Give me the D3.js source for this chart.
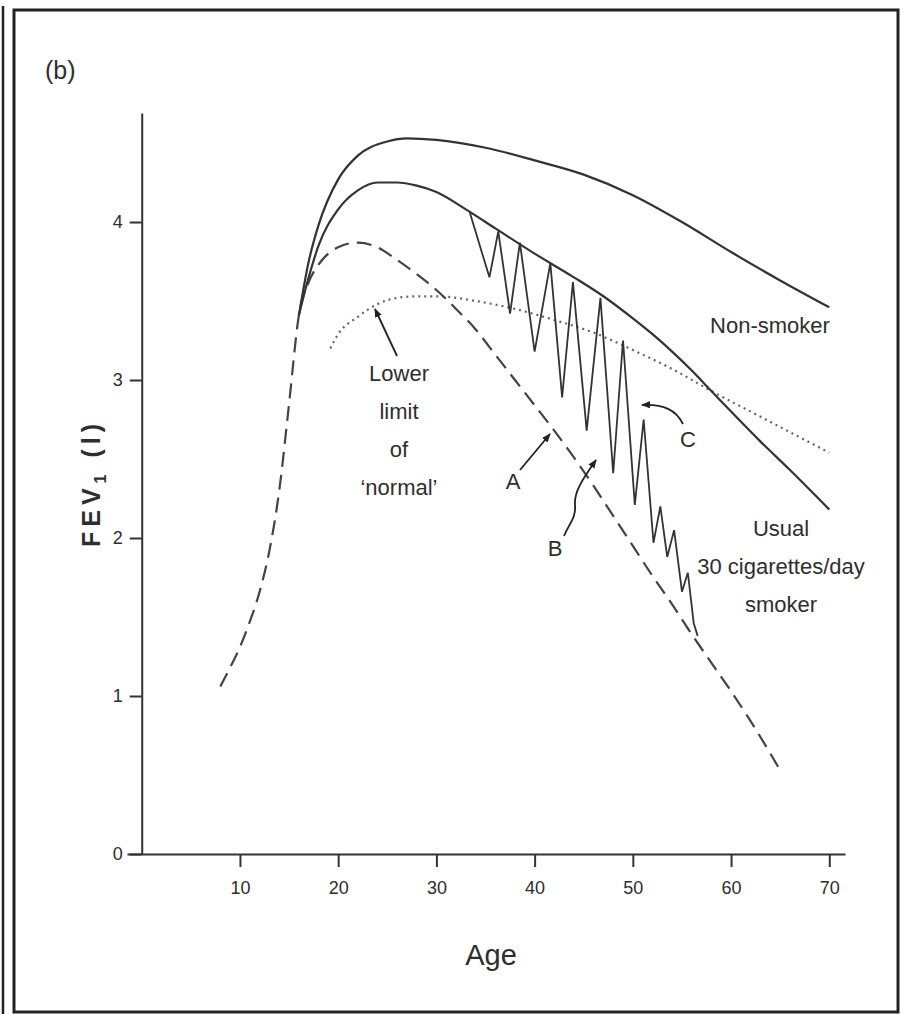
<!DOCTYPE html>
<html>
<head>
<meta charset="utf-8">
<style>
  body { margin: 0; background: #fff; }
  svg text { font-family: "Liberation Sans Narrow", "Arial Narrow", "Liberation Sans", Arial, sans-serif; fill: #2e2e2e; }
  .axis path, .axis line { stroke: #333; stroke-width: 2; }
  .axis text { font-size: 18px; }
</style>
</head>
<body>
<svg id="chart" width="903" height="1014"></svg>
<script src="https://d3js.org/d3.v7.min.js"></script>
<script>
// ages / FEV1
var nonSmokerAge = [16, 17, 18, 20, 22, 25, 27, 30, 35, 40, 45, 50, 55, 60, 65, 70];
var nonSmokerFev = [3.41, 3.75, 3.98, 4.27, 4.42, 4.51, 4.53, 4.52, 4.47, 4.39, 4.3, 4.17, 4.0, 3.81, 3.63, 3.46];

var smokerAge = [16, 17, 18, 20, 22, 24, 26, 28, 30, 33, 36, 40, 44, 47, 50, 52, 54, 56, 58, 60, 63, 66, 70];
var smokerFev = [3.41, 3.65, 3.85, 4.08, 4.2, 4.25, 4.25, 4.23, 4.19, 4.08, 3.96, 3.8, 3.65, 3.53, 3.39, 3.29, 3.18, 3.06, 2.93, 2.8, 2.61, 2.43, 2.18];

var susceptAge = [8, 9, 10, 11, 12, 13, 14, 15, 16, 17, 18, 20, 22, 24, 26, 28, 30, 32, 34, 36, 38, 40, 42, 44, 46, 48, 50, 52, 54, 56, 58, 60, 62, 65];
var susceptFev = [1.06, 1.18, 1.31, 1.47, 1.66, 1.92, 2.3, 2.85, 3.41, 3.62, 3.73, 3.84, 3.87, 3.84, 3.76, 3.67, 3.57, 3.45, 3.32, 3.16, 3.0, 2.84, 2.68, 2.51, 2.33, 2.14, 1.95, 1.76, 1.58, 1.39, 1.21, 1.03, 0.84, 0.53];

var lowerAge = [19.2, 20, 22, 24, 26, 28, 30, 34, 38, 42, 46, 50, 54, 58, 62, 66, 70];
var lowerFev = [3.2, 3.29, 3.4, 3.48, 3.52, 3.53, 3.53, 3.5, 3.45, 3.38, 3.3, 3.19, 3.07, 2.93, 2.8, 2.67, 2.54];

var zigAge = [33.4, 35.4, 36.3, 37.5, 38.5, 40.0, 41.6, 42.8, 43.9, 45.3, 46.7, 48.0, 49.0, 50.2, 51.1, 52.1, 52.8, 53.5, 54.2, 55.0, 55.6, 56.2, 56.6];
var zigFev = [4.06, 3.65, 3.94, 3.42, 3.87, 3.18, 3.74, 2.89, 3.62, 2.68, 3.52, 2.41, 3.25, 2.21, 2.75, 1.97, 2.2, 1.88, 2.05, 1.66, 1.78, 1.46, 1.38];

var xTicks = [10, 20, 30, 40, 50, 60, 70];
var yTicks = [0, 1, 2, 3, 4];

var svg = d3.select("#chart");

var x = d3.scaleLinear().domain([-1.5, 71.6]).range([127, 845]);
var y = d3.scaleLinear().domain([0, 4.69]).range([854, 113]);

function pts(a, v) { return a.map(function(d, i) { return [d, v[i]]; }); }

var smooth = d3.line()
    .x(function(d) { return x(d[0]); })
    .y(function(d) { return y(d[1]); })
    .curve(d3.curveMonotoneX);
var straight = d3.line()
    .x(function(d) { return x(d[0]); })
    .y(function(d) { return y(d[1]); });

// frame
svg.append("line").attr("x1", 3).attr("y1", 6).attr("x2", 3).attr("y2", 1014)
    .attr("stroke", "#222").attr("stroke-width", 2.5);
svg.append("rect").attr("x", 14).attr("y", 10).attr("width", 884).attr("height", 1002)
    .attr("fill", "none").attr("stroke", "#222").attr("stroke-width", 3);

svg.append("text").attr("x", 45).attr("y", 79).attr("font-size", 25).text("(b)");

// axes
svg.append("g").attr("class", "axis")
    .attr("transform", "translate(0," + y(0) + ")")
    .call(d3.axisBottom(x).tickValues(xTicks).tickSize(13).tickSizeOuter(0).tickPadding(14));
svg.append("g").attr("class", "axis")
    .attr("transform", "translate(" + x(0) + ",0)")
    .call(d3.axisLeft(y).tickValues(yTicks).tickFormat(d3.format("d"))
      .tickSize(12).tickSizeOuter(0).tickPadding(7));

svg.append("text").attr("x", 491).attr("y", 965).attr("text-anchor", "middle")
    .attr("font-size", 29).text("Age");

var ylab = svg.append("text")
    .attr("transform", "translate(100,483) rotate(-90)")
    .attr("text-anchor", "middle").attr("font-size", 25)
    .attr("font-weight", "bold").attr("letter-spacing", 5)
    .style("font-family", "'Liberation Sans', Arial, sans-serif");
ylab.append("tspan").text("FEV");
ylab.append("tspan").attr("font-size", 16).attr("dy", 6).text("1");
ylab.append("tspan").attr("dy", -6).text(" (l)");

// curves
svg.append("path").datum(pts(lowerAge, lowerFev)).attr("d", smooth)
    .attr("fill", "none").attr("stroke", "#666").attr("stroke-width", 2.2)
    .attr("stroke-dasharray", "2,4");
svg.append("path").datum(pts(susceptAge, susceptFev)).attr("d", smooth)
    .attr("fill", "none").attr("stroke", "#444").attr("stroke-width", 2.2)
    .attr("stroke-dasharray", "15,8");
svg.append("path").datum(pts(nonSmokerAge, nonSmokerFev)).attr("d", smooth)
    .attr("fill", "none").attr("stroke", "#333").attr("stroke-width", 2.2);
svg.append("path").datum(pts(smokerAge, smokerFev)).attr("d", smooth)
    .attr("fill", "none").attr("stroke", "#333").attr("stroke-width", 2.2);
svg.append("path").datum(pts(zigAge, zigFev)).attr("d", straight)
    .attr("fill", "none").attr("stroke", "#333").attr("stroke-width", 1.8)
    .attr("stroke-linejoin", "miter");

// annotations
svg.append("defs").append("marker").attr("id", "head")
    .attr("viewBox", "0 0 10 10").attr("refX", 9).attr("refY", 5)
    .attr("markerWidth", 5).attr("markerHeight", 5).attr("orient", "auto")
    .append("path").attr("d", "M0,1 L10,5 L0,9 Z").attr("fill", "#222");

function label(lines, cx, cy, gap) {
  var t = svg.append("text").attr("text-anchor", "middle").attr("font-size", 22);
  lines.forEach(function(s, i) {
    t.append("tspan").attr("x", cx).attr("y", cy + i * gap).text(s);
  });
}
label(["Lower", "limit", "of", "\u2018normal\u2019"], 399, 381, 38);
label(["Non-smoker"], 770, 333, 0);
label(["Usual", "30 cigarettes/day", "smoker"], 781, 536, 38);
svg.append("text").attr("x", 513).attr("y", 489).attr("text-anchor", "middle").attr("font-size", 22).text("A");
svg.append("text").attr("x", 555).attr("y", 556).attr("text-anchor", "middle").attr("font-size", 22).text("B");
svg.append("text").attr("x", 688).attr("y", 447).attr("text-anchor", "middle").attr("font-size", 22).text("C");

function arrow(d) {
  svg.append("path").attr("d", d).attr("fill", "none").attr("stroke", "#222")
      .attr("stroke-width", 1.8).attr("marker-end", "url(#head)");
}
arrow("M397,356 L375,309");
arrow("M520,470 L550,434");
arrow("M564,536 C570,522 576,518 575,505 C574,492 582,480 596,460");
arrow("M683,424 C676,410 664,404 642,405");
</script>
</body>
</html>
